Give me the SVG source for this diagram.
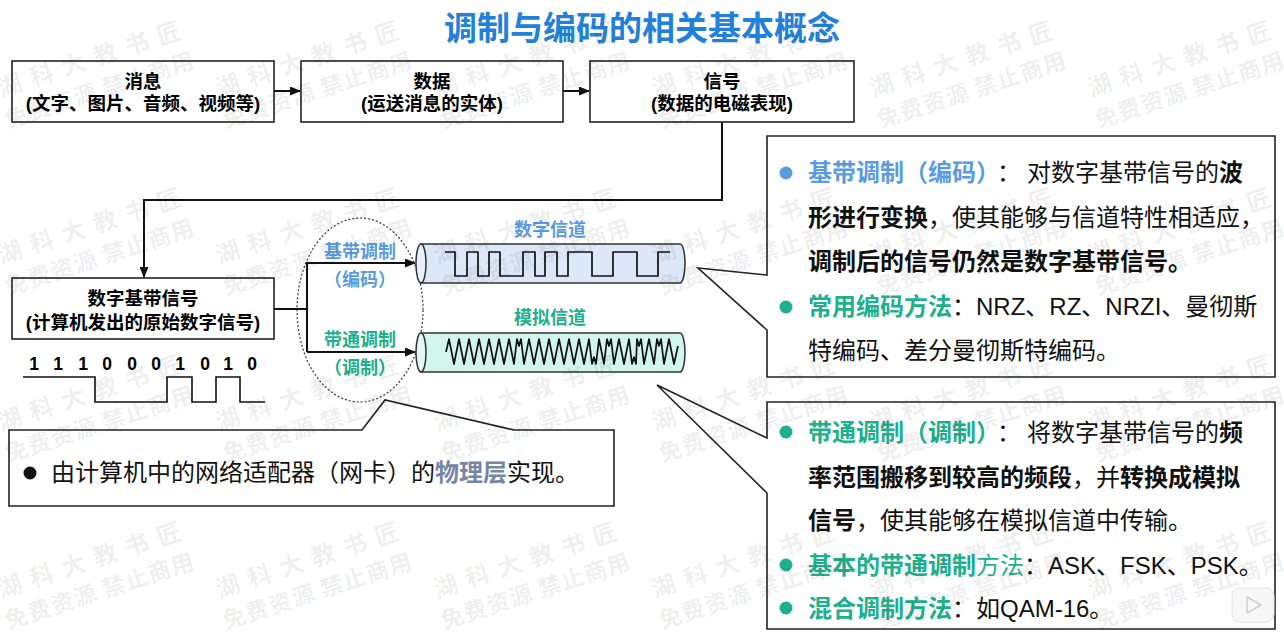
<svg xmlns="http://www.w3.org/2000/svg" xmlns:xlink="http://www.w3.org/1999/xlink" width="1284" height="641" viewBox="0 0 1284 641">
<style>
.t{font-family:"Liberation Sans","Noto Sans CJK SC",sans-serif;}
.b{font-weight:bold;}
.box{fill:#fff;stroke:#222;stroke-width:1.6;}
.call{fill:#fff;stroke:#222;stroke-width:1.6;stroke-linejoin:miter;}
.conn{fill:none;stroke:#111;stroke-width:2;}
.blue{fill:#5a9be0;}
.teal{fill:#1db08d;}
.wave{fill:none;stroke:#111;stroke-width:1.7;stroke-linejoin:round;}
.wm{font-family:"Noto Sans CJK SC",sans-serif;font-weight:bold;fill:#000;fill-opacity:0.08;}
</style>
<defs>
<marker id="arr" markerUnits="userSpaceOnUse" markerWidth="11" markerHeight="9" refX="10" refY="4.5" orient="auto">
<path d="M0,0 L11,4.5 L0,9 Z" fill="#111"/>
</marker>
<g id="wmt" transform="rotate(-18)">
<text class="wm" x="0" y="0" font-size="24" letter-spacing="2">湖 科 大 教 书 匠</text>
<text class="wm" x="-3" y="32" font-size="23" letter-spacing="1">免费资源 禁止商用</text>
</g>
</defs>
<rect width="1284" height="641" fill="#fff"/>

<g id="title">
<text class="t b" x="642" y="40" font-size="33" fill="#2380d8" text-anchor="middle">调制与编码的相关基本概念</text>
</g>

<g id="connectors">
<line class="conn" x1="274" y1="91" x2="300" y2="91" marker-end="url(#arr)"/>
<line class="conn" x1="563" y1="91" x2="589" y2="91" marker-end="url(#arr)"/>
<polyline class="conn" points="722,122 722,200 144,200 144,277" marker-end="url(#arr)"/>
<polyline class="conn" points="274,309 307,309"/>
<polyline class="conn" points="307,352 307,263 415,263" marker-end="url(#arr)"/>
<line class="conn" x1="307" y1="352" x2="415" y2="352" marker-end="url(#arr)"/>
</g>

<g id="box-message">
<rect class="box" x="12" y="61" width="262" height="61"/>
<text class="t b" x="143" y="88" font-size="18.5" text-anchor="middle">消息</text>
<text class="t b" x="143" y="110" font-size="18.5" text-anchor="middle">(文字、图片、音频、视频等)</text>
</g>
<g id="box-data">
<rect class="box" x="301" y="61" width="262" height="61"/>
<text class="t b" x="432" y="88" font-size="18.5" text-anchor="middle">数据</text>
<text class="t b" x="432" y="110" font-size="18.5" text-anchor="middle">(运送消息的实体)</text>
</g>
<g id="box-signal">
<rect class="box" x="590" y="61" width="264" height="61"/>
<text class="t b" x="722" y="88" font-size="18.5" text-anchor="middle">信号</text>
<text class="t b" x="722" y="110" font-size="18.5" text-anchor="middle">(数据的电磁表现)</text>
</g>
<g id="box-baseband">
<rect class="box" x="12" y="278" width="262" height="61"/>
<text class="t b" x="143" y="305" font-size="18.5" text-anchor="middle">数字基带信号</text>
<text class="t b" x="143" y="329" font-size="18.5" text-anchor="middle">(计算机发出的原始数字信号)</text>
</g>

<g id="bit-waveform">
<g class="t b" font-size="17.5" text-anchor="middle">
<text x="34" y="370">1</text><text x="58" y="370">1</text><text x="83" y="370">1</text><text x="107" y="370">0</text><text x="132" y="370">0</text><text x="156" y="370">0</text><text x="180" y="370">1</text><text x="205" y="370">0</text><text x="228" y="370">1</text><text x="252" y="370">0</text>
</g>
<path d="M23,377 H95 V402 H167 V377 H192 V402 H216 V377 H240 V402 H265" fill="none" stroke="#111" stroke-width="1.6"/>
</g>

<g id="modem-ellipse">
<ellipse cx="360" cy="310" rx="63" ry="92" fill="none" stroke="#333" stroke-width="1.2" stroke-dasharray="2,2"/>
</g>
<g id="label-baseband-mod">
<text class="t b blue" x="360" y="258" font-size="18" text-anchor="middle">基带调制</text>
<text class="t b blue" x="360" y="286" font-size="18" text-anchor="middle">（编码）</text>
</g>
<g id="label-passband-mod">
<text class="t b teal" x="360" y="346" font-size="18" text-anchor="middle">带通调制</text>
<text class="t b teal" x="360" y="374" font-size="18" text-anchor="middle">（调制）</text>
</g>

<g id="channel-digital">
<text class="t b blue" x="550" y="236" font-size="18" text-anchor="middle">数字信道</text>
<path d="M421,244 H680 A5,19.5 0 0 1 680,283 H421 Z" fill="#dce8f8" stroke="#333" stroke-width="1.5"/>
<ellipse cx="421" cy="263.5" rx="5" ry="19.5" fill="#e8f0fb" stroke="#333" stroke-width="1.5"/>
<path class="wave" d="M445,252 H455 V276 H467 V252 H478 V276 H489 V252 H500 V276 H523 V252 H535 V276 H545 V252 H557 V276 H568 V252 H592 V276 H613 V252 H637 V276 H658 V252 H670"/>
</g>
<g id="channel-analog">
<text class="t b teal" x="550" y="324" font-size="18" text-anchor="middle">模拟信道</text>
<path d="M421,333 H680 A5,19.5 0 0 1 680,372 H421 Z" fill="#d2f5ec" stroke="#333" stroke-width="1.5"/>
<ellipse cx="421" cy="352.5" rx="5" ry="19.5" fill="#e0f8f1" stroke="#333" stroke-width="1.5"/>
<polyline class="wave" points="446,352 449,339 454,364 459,339 464,364 469,339 474,364 479,339 484,364 489,339 494,364 499,339 504,364 509,339 514,364 517,339 519,346 521,339 524,364 529,339 534,364 539,339 544,364 549,339 554,364 559,339 564,364 569,339 574,364 579,339 584,364 589,339 592,364 594,357 596,364 599,339 604,364 607,339 609,346 611,339 614,364 619,339 624,364 629,339 632,364 634,357 636,364 637,339 639,346 641,339 644,364 649,339 654,364 657,339 659,346 661,339 664,364 669,339 674,364 678,346"/>
</g>

<g id="callout-nic">
<path class="call" d="M9,430 H362 L385,400 L514,430 H614 V506 H9 Z"/>
<circle cx="30" cy="473" r="6.5" fill="#111"/>
<text class="t" x="51" y="481" font-size="24" fill="#111">由计算机中的网络适配器（网卡）的<tspan font-weight="bold" fill="#7585a6">物理层</tspan>实现。</text>
</g>

<g id="callout-baseband">
<path class="call" d="M767,136 H1275 V377 H767 V330 L698,268 L767,275 Z"/>
<circle cx="786" cy="173" r="6.5" fill="#5a9be0"/>
<circle cx="786" cy="307" r="6.5" fill="#1db08d"/>
<g class="t" font-size="24" fill="#111">
<text x="808" y="181"><tspan class="b blue">基带调制（编码）</tspan><tspan dx="9">：</tspan><tspan dx="6">对数字基带信号的</tspan><tspan class="b">波</tspan></text>
<text x="808" y="226"><tspan class="b">形进行变换</tspan>，使其能够与信道特性相适应，</text>
<text x="808" y="270" class="b">调制后的信号仍然是数字基带信号。</text>
<text x="808" y="315"><tspan class="b teal">常用编码方法</tspan>：NRZ、RZ、NRZI、曼彻斯</text>
<text x="808" y="359">特编码、差分曼彻斯特编码。</text>
</g>
</g>

<g id="callout-passband">
<path class="call" d="M767,402 H1275 V629 H767 V493 L657,385 L767,438 Z"/>
<circle cx="786" cy="432" r="6.5" fill="#1db08d"/>
<circle cx="786" cy="565" r="6.5" fill="#1db08d"/>
<circle cx="786" cy="608" r="6.5" fill="#1db08d"/>
<g class="t" font-size="24" fill="#111">
<text x="808" y="441"><tspan class="b teal">带通调制（调制）</tspan><tspan dx="9">：</tspan><tspan dx="6">将数字基带信号的</tspan><tspan class="b">频</tspan></text>
<text x="808" y="486"><tspan class="b">率范围搬移到较高的频段</tspan>，并<tspan class="b">转换成模拟</tspan></text>
<text x="808" y="529"><tspan class="b">信号</tspan>，使其能够在模拟信道中传输。</text>
<text x="808" y="574"><tspan class="b teal">基本的带通调制</tspan><tspan class="teal">方法</tspan>：ASK、FSK、PSK。</text>
<text x="808" y="617"><tspan class="b teal">混合调制方法</tspan>：如QAM-16。</text>
</g>
</g>

<g id="play-button">
<rect x="1232" y="588" width="42" height="34" rx="8" fill="#f6f6f6" fill-opacity="0.9" stroke="#e2e2e2"/>
<path d="M1247,597 L1261,605 L1247,613 Z" fill="none" stroke="#cfcfcf" stroke-width="1.5" stroke-linejoin="round"/>
</g>

<g id="watermark">
<use xlink:href="#wmt" x="1" y="97"/><use xlink:href="#wmt" x="219" y="97"/><use xlink:href="#wmt" x="437" y="97"/><use xlink:href="#wmt" x="655" y="97"/><use xlink:href="#wmt" x="873" y="97"/><use xlink:href="#wmt" x="1091" y="97"/>
<use xlink:href="#wmt" x="1" y="264"/><use xlink:href="#wmt" x="219" y="264"/><use xlink:href="#wmt" x="437" y="264"/><use xlink:href="#wmt" x="655" y="264"/><use xlink:href="#wmt" x="873" y="264"/><use xlink:href="#wmt" x="1091" y="264"/>
<use xlink:href="#wmt" x="1" y="431"/><use xlink:href="#wmt" x="219" y="431"/><use xlink:href="#wmt" x="437" y="431"/><use xlink:href="#wmt" x="655" y="431"/><use xlink:href="#wmt" x="873" y="431"/><use xlink:href="#wmt" x="1091" y="431"/>
<use xlink:href="#wmt" x="1" y="598"/><use xlink:href="#wmt" x="219" y="598"/><use xlink:href="#wmt" x="437" y="598"/><use xlink:href="#wmt" x="655" y="598"/><use xlink:href="#wmt" x="873" y="598"/><use xlink:href="#wmt" x="1091" y="598"/>
</g>
</svg>
